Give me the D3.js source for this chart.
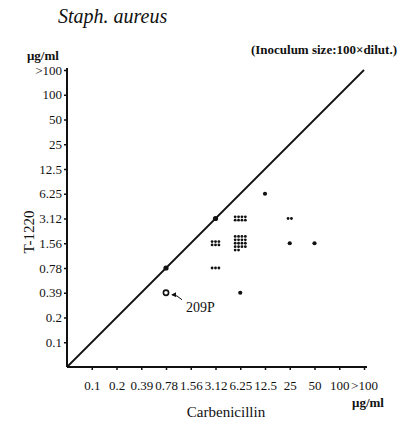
<!DOCTYPE html>
<html>
<head>
<meta charset="utf-8">
<script src="https://cdn.jsdelivr.net/npm/d3@7"></script>
<style>
  body { margin: 0; background: #fff; }
  text { font-family: "Liberation Serif", "DejaVu Serif", serif; fill: #111; }
</style>
</head>
<body>
<script>
const WIDTH = 401;
const HEIGHT = 424;

// tick labels, log2 dilution steps (same on both axes)
const xLabels = ["0.1", "0.2", "0.39", "0.78", "1.56", "3.12", "6.25", "12.5", "25", "50", "100", ">100"];
const yLabels = ["0.1", "0.2", "0.39", "0.78", "1.56", "3.12", "6.25", "12.5", "25", "50", "100", ">100"];

// MIC of each strain group: Carbenicillin (x), T-1220 (y), number of strains
const strainX = ["12.5", "3.12", "6.25", "25", "3.12", "6.25", "25", "50", "3.12", "0.78", "6.25"];
const strainY = ["6.25", "3.12", "3.12", "3.12", "1.56", "1.56", "1.56", "1.56", "0.78", "0.78", "0.39"];
const strainN = [1, 1, 8, 2, 6, 18, 1, 1, 3, 1, 1];

// reference strain
const refX = "0.78";
const refY = "0.39";
const refName = "209P";

const ORIGIN = "0";

const $svg = d3.select("body").append("svg")
  .attr("width", WIDTH)
  .attr("height", HEIGHT);

const xScale = d3.scalePoint()
  .domain([ORIGIN, ...xLabels])
  .range([67, 364]);

const yScale = d3.scalePoint()
  .domain([ORIGIN, ...yLabels])
  .range([367, 70]);

// title + notes
$svg.append("text")
  .attr("x", 58).attr("y", 23)
  .style("font-size", "20px")
  .style("font-style", "italic")
  .text("Staph. aureus");

$svg.append("text")
  .attr("x", 397).attr("y", 54)
  .attr("text-anchor", "end")
  .style("font-size", "13px")
  .style("font-weight", "bold")
  .text("(Inoculum size:100×dilut.)");

// axes
const xAxis = d3.axisBottom(xScale)
  .tickValues(xLabels)
  .tickSize(3)
  .tickSizeOuter(0)
  .tickPadding(11);

const yAxis = d3.axisLeft(yScale)
  .tickValues(yLabels)
  .tickSize(3)
  .tickSizeOuter(0)
  .tickPadding(2);

const $x = $svg.append("g")
  .attr("transform", `translate(0,${yScale(ORIGIN)})`)
  .call(xAxis);

const $y = $svg.append("g")
  .attr("transform", `translate(${xScale(ORIGIN)},0)`)
  .call(yAxis);

[$x, $y].forEach($g => {
  $g.attr("font-family", "'Liberation Serif', serif");
  $g.select(".domain").attr("stroke", "#111").attr("stroke-width", 2);
  $g.selectAll(".tick line").attr("stroke", "#111").attr("stroke-width", 1.5);
  $g.selectAll(".tick text")
    .style("font-size", "13px")
    .attr("fill", "#111");
});
$x.select(".domain").attr("d", `M${xScale(ORIGIN)},0H367`);
$y.select(".domain").attr("d", `M0,0V-${yScale(ORIGIN) - 68}`)
  .attr("transform", `translate(0,${yScale(ORIGIN)})`);

// unit labels and axis titles
$svg.append("text")
  .attr("x", 27).attr("y", 60)
  .style("font-size", "13px")
  .style("font-weight", "bold")
  .text("μg/ml");

$svg.append("text")
  .attr("x", 384).attr("y", 407)
  .attr("text-anchor", "end")
  .style("font-size", "13px")
  .style("font-weight", "bold")
  .text("μg/ml");

$svg.append("text")
  .attr("x", 226).attr("y", 417)
  .attr("text-anchor", "middle")
  .style("font-size", "15px")
  .text("Carbenicillin");

$svg.append("text")
  .attr("transform", "translate(34,232) rotate(-90)")
  .attr("text-anchor", "middle")
  .style("font-size", "15px")
  .text("T-1220");

// diagonal (equal MIC)
$svg.append("line")
  .attr("x1", xScale(ORIGIN)).attr("y1", yScale(ORIGIN))
  .attr("x2", xScale(">100")).attr("y2", yScale(">100"))
  .attr("stroke", "#111")
  .attr("stroke-width", 1.8);

// strain dots, grouped in little grids when several share a cell
const STEP = 3.4;
const dots = [];
strainX.forEach((xv, i) => {
  const n = strainN[i];
  const cols = n <= 3 ? n : n <= 6 ? 3 : 4;
  const rows = Math.ceil(n / cols);
  const onLine = xLabels.indexOf(xv) === yLabels.indexOf(strainY[i]);
  for (let k = 0; k < n; k++) {
    const c = k % cols;
    const r = Math.floor(k / cols);
    dots.push({
      cx: xScale(xv) + (c - (cols - 1) / 2) * STEP,
      cy: yScale(strainY[i]) + (r - (rows - 1) / 2) * STEP,
      r: n > 1 ? 1.4 : onLine ? 2.6 : 2.1
    });
  }
});

$svg.selectAll("circle.strain")
  .data(dots)
  .enter()
  .append("circle")
  .attr("class", "strain")
  .attr("cx", d => d.cx)
  .attr("cy", d => d.cy)
  .attr("r", d => d.r)
  .attr("fill", "#111");

// reference strain 209P
$svg.append("circle")
  .attr("cx", xScale(refX))
  .attr("cy", yScale(refY))
  .attr("r", 2.6)
  .attr("fill", "#fff")
  .attr("stroke", "#111")
  .attr("stroke-width", 1.6);

$svg.append("defs").append("marker")
  .attr("id", "arrow")
  .attr("viewBox", "0 0 6 6")
  .attr("refX", 5).attr("refY", 3)
  .attr("markerWidth", 5).attr("markerHeight", 5)
  .attr("orient", "auto")
  .append("path")
  .attr("d", "M0,0L6,3L0,6Z")
  .attr("fill", "#111");

$svg.append("path")
  .attr("d", `M${xScale(refX) + 16},${yScale(refY) + 7}Q${xScale(refX) + 11},${yScale(refY) + 2} ${xScale(refX) + 6},${yScale(refY) + 2}`)
  .attr("fill", "none")
  .attr("stroke", "#111")
  .attr("stroke-width", 1)
  .attr("marker-end", "url(#arrow)");

$svg.append("text")
  .attr("x", xScale(refX) + 20)
  .attr("y", yScale(refY) + 19)
  .style("font-size", "14px")
  .text(refName);
</script>
</body>
</html>
